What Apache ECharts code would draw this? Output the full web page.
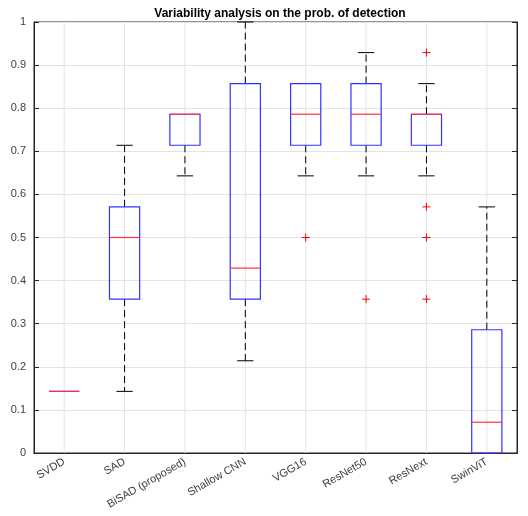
<!DOCTYPE html>
<html>
<head>
<meta charset="utf-8">
<script src="https://cdn.jsdelivr.net/npm/echarts@6/dist/echarts.min.js"></script>
<style>
  html, body { margin: 0; padding: 0; background: #fff; }
  #chart { width: 528px; height: 516px; }
</style>
</head>
<body>
<div id="chart"></div>
<script>
// box statistics
var categories = ['SVDD', 'SAD', 'BiSAD (proposed)', 'Shallow CNN', 'VGG16', 'ResNet50', 'ResNext', 'SwinViT'];
var lowWhisker = [0.143, 0.143, 0.643, 0.214, 0.643, 0.643, 0.643, 0];
var q1 = [0.143, 0.357, 0.714, 0.357, 0.714, 0.714, 0.714, 0];
var medians = [0.143, 0.5, 0.786, 0.429, 0.786, 0.786, 0.786, 0.0714];
var q3 = [0.143, 0.571, 0.786, 0.857, 0.857, 0.857, 0.786, 0.286];
var highWhisker = [0.143, 0.714, 0.786, 1.0, 0.857, 0.929, 0.857, 0.571];
// outliers: [category index, value]
var outliers = [[4, 0.5], [5, 0.357], [6, 0.929], [6, 0.571], [6, 0.5], [6, 0.357]];
var yTicks = [0, 0.1, 0.2, 0.3, 0.4, 0.5, 0.6, 0.7, 0.8, 0.9, 1];

var boxData = categories.map(function (c, i) {
    return [i, lowWhisker[i], q1[i], medians[i], q3[i], highWhisker[i]];
});
var gridData = categories.map(function (c, i) { return [i, 0, 1]; });

function renderGrid(params, api) {
    var a = api.coord([api.value(0), api.value(1)]);
    var b = api.coord([api.value(0), api.value(2)]);
    return {
        type: 'line',
        shape: { x1: a[0], y1: a[1], x2: b[0], y2: b[1] },
        style: { stroke: '#e3e3e3', lineWidth: 1 }
    };
}

function renderBox(params, api) {
    var i = api.value(0);
    var pLo = api.coord([i, api.value(1)]);
    var pQ1 = api.coord([i, api.value(2)]);
    var pMed = api.coord([i, api.value(3)]);
    var pQ3 = api.coord([i, api.value(4)]);
    var pHi = api.coord([i, api.value(5)]);
    var band = api.size([1, 0])[0];
    var half = band * 0.25;
    var cap = band * 0.135;
    var x = pMed[0];
    var kids = [];
    var wStyle = { stroke: '#000', lineWidth: 1, lineDash: [7, 4] };
    var cStyle = { stroke: '#000', lineWidth: 1 };
    if (pHi[1] < pQ3[1] - 0.5) {
        kids.push({ type: 'line', shape: { x1: x, y1: pQ3[1], x2: x, y2: pHi[1] }, style: wStyle });
        kids.push({ type: 'line', shape: { x1: x - cap, y1: pHi[1], x2: x + cap, y2: pHi[1] }, style: cStyle });
    }
    if (pLo[1] > pQ1[1] + 0.5) {
        kids.push({ type: 'line', shape: { x1: x, y1: pQ1[1], x2: x, y2: pLo[1] }, style: wStyle });
        kids.push({ type: 'line', shape: { x1: x - cap, y1: pLo[1], x2: x + cap, y2: pLo[1] }, style: cStyle });
    }
    kids.push({
        type: 'rect',
        shape: { x: x - half, y: pQ3[1], width: half * 2, height: pQ1[1] - pQ3[1] },
        style: { fill: null, stroke: '#3333ff', lineWidth: 1.2 }
    });
    kids.push({
        type: 'line',
        shape: { x1: x - half, y1: pMed[1], x2: x + half, y2: pMed[1] },
        style: { stroke: '#ff3333', lineWidth: 1.2 }
    });
    return { type: 'group', children: kids };
}

function renderPlus(params, api) {
    var p = api.coord([api.value(0), api.value(1)]);
    var s = 4;
    return {
        type: 'group',
        children: [
            { type: 'line', shape: { x1: p[0] - s, y1: p[1], x2: p[0] + s, y2: p[1] }, style: { stroke: '#ff0000', lineWidth: 1 } },
            { type: 'line', shape: { x1: p[0], y1: p[1] - s, x2: p[0], y2: p[1] + s }, style: { stroke: '#ff0000', lineWidth: 1 } }
        ]
    };
}

var axisCol = '#262626';
var labelCol = '#404040';

var myChart = echarts.init(document.getElementById('chart'), null, { renderer: 'canvas' });

var option = {
    animation: false,
    backgroundColor: '#fff',
    title: {
        text: 'Variability analysis on the prob. of detection',
        left: 275,
        textAlign: 'center',
        top: 3,
        textStyle: { fontFamily: 'Liberation Sans, Arial', fontSize: 12, fontWeight: 'bold', color: '#000' }
    },
    grid: { left: 34, right: 11, top: 22, bottom: 63, show: true, borderColor: axisCol, borderWidth: 1 },
    xAxis: [{
        type: 'category',
        data: categories,
        boundaryGap: true,
        axisLine: { lineStyle: { color: axisCol } },
        axisTick: { alignWithLabel: true, inside: true, length: 5, lineStyle: { color: axisCol } },
        axisLabel: {
            rotate: 30, margin: 8, color: labelCol, fontSize: 11,
            fontFamily: 'Liberation Sans, Arial', interval: 0
        },
        splitLine: { show: false }
    }, {
        type: 'category',
        data: categories,
        position: 'top',
        boundaryGap: true,
        axisLine: { lineStyle: { color: axisCol } },
        axisTick: { alignWithLabel: true, inside: true, length: 5, lineStyle: { color: axisCol } },
        axisLabel: { show: false },
        splitLine: { show: false }
    }],
    yAxis: [{
        type: 'value',
        min: 0, max: 1, interval: 0.1,
        axisLine: { show: true, lineStyle: { color: axisCol } },
        axisTick: { show: true, inside: true, length: 5, lineStyle: { color: axisCol } },
        axisLabel: {
            color: labelCol, fontSize: 11, fontFamily: 'Liberation Sans, Arial', margin: 8,
            formatter: function (v) {
                var t = yTicks.find(function (k) { return Math.abs(k - v) < 1e-6; });
                return t === undefined ? '' : String(t);
            }
        },
        splitLine: { show: true, lineStyle: { color: '#e3e3e3' } }
    }, {
        type: 'value',
        position: 'right',
        min: 0, max: 1, interval: 0.1,
        axisLine: { show: true, lineStyle: { color: axisCol } },
        axisTick: { show: true, inside: true, length: 5, lineStyle: { color: axisCol } },
        axisLabel: { show: false },
        splitLine: { show: false }
    }],
    series: [{
        type: 'custom',
        renderItem: renderGrid,
        data: gridData,
        encode: { x: 0, y: [1, 2] },
        silent: true,
        z: 1
    }, {
        type: 'custom',
        renderItem: renderBox,
        data: boxData,
        encode: { x: 0, y: [1, 2, 3, 4, 5] },
        z: 3
    }, {
        type: 'custom',
        renderItem: renderPlus,
        data: outliers,
        encode: { x: 0, y: 1 },
        z: 4
    }]
};

myChart.setOption(option);
</script>
</body>
</html>
